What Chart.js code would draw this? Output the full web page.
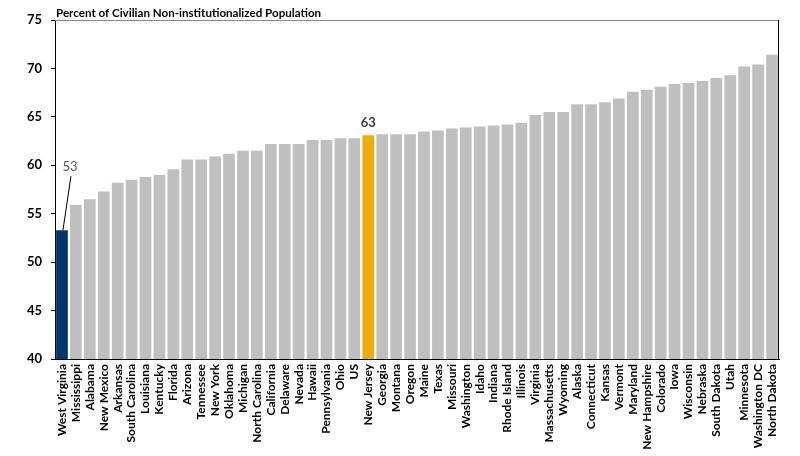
<!DOCTYPE html>
<html><head><meta charset="utf-8">
<script src="https://cdn.jsdelivr.net/npm/chart.js@4"></script>
<style>html,body{margin:0;padding:0;background:#fff}#wrap{width:800px;height:456px}</style>
</head><body><div id="wrap"><canvas id="c" width="800" height="456"></canvas></div>
<script>
const categories = ["West Virginia","Mississippi","Alabama","New Mexico","Arkansas","South Carolina","Louisiana","Kentucky","Florida","Arizona","Tennessee","New York","Oklahoma","Michigan","North Carolina","California","Delaware","Nevada","Hawaii","Pennsylvania","Ohio","US","New Jersey","Georgia","Montana","Oregon","Maine","Texas","Missouri","Washington","Idaho","Indiana","Rhode Island","Illinois","Virginia","Massachusetts","Wyoming","Alaska","Connecticut","Kansas","Vermont","Maryland","New Hampshire","Colorado","Iowa","Wisconsin","Nebraska","South Dakota","Utah","Minnesota","Washington DC","North Dakota"];
const values = [53.3,55.9,56.5,57.3,58.2,58.5,58.8,59.0,59.6,60.6,60.6,60.9,61.2,61.5,61.5,62.2,62.2,62.2,62.6,62.6,62.8,62.8,63.1,63.2,63.2,63.2,63.5,63.6,63.8,63.9,64.0,64.1,64.2,64.4,65.2,65.5,65.5,66.3,66.3,66.5,66.9,67.6,67.8,68.1,68.4,68.5,68.7,69.0,69.3,70.2,70.4,71.4];
const yTicks = [40,45,50,55,60,65,70,75];
const labeled = {"West Virginia":"53","New Jersey":"63"};
const titleText = "Percent of Civilian Non-institutionalized Population";

const colors = categories.map(c => c === "West Virginia" ? "#003768" : (c === "New Jersey" ? "#EFAB00" : "#BFBFBF"));
const FONT = "Lato, 'Open Sans', sans-serif";

const extras = {
  id: 'extras',
  afterDatasetsDraw(chart) {
    const ctx = chart.ctx, a = chart.chartArea;
    const meta = chart.getDatasetMeta(0);
    ctx.save();
    ctx.lineWidth = 1;
    ctx.strokeStyle = "#8a8a8a";
    ctx.beginPath(); ctx.moveTo(a.left, a.top + 0.5); ctx.lineTo(a.right, a.top + 0.5); ctx.stroke();
    ctx.strokeStyle = "#000";
    ctx.beginPath(); ctx.moveTo(a.right - 0.5, a.top); ctx.lineTo(a.right - 0.5, a.bottom); ctx.stroke();
    ctx.fillStyle = "#000";
    ctx.font = "bold 11.6px " + FONT;
    ctx.textAlign = "left"; ctx.textBaseline = "alphabetic";
    ctx.fillText(titleText, a.left + 1, a.top - 3);
    ctx.textAlign = "center";
    categories.forEach((c, i) => {
      if (!labeled[c]) return;
      const el = meta.data[i];
      if (i === 0) {
        ctx.font = "13px " + FONT;
        ctx.fillStyle = "#595959";
        const lx = el.x + 8, ly = el.y - 59;
        ctx.fillText(labeled[c], lx, ly);
        ctx.strokeStyle = "#000"; ctx.lineWidth = 1;
        ctx.beginPath(); ctx.moveTo(lx + 1, ly + 5); ctx.lineTo(el.x + 1, el.y); ctx.stroke();
      } else {
        ctx.font = "bold 13px " + FONT;
        ctx.fillStyle = "#404040";
        ctx.fillText(labeled[c], el.x, el.y - 8);
      }
    });
    ctx.restore();
  }
};

new Chart(document.getElementById('c'), {
  type: 'bar',
  data: { labels: categories, datasets: [{ data: values, backgroundColor: colors, borderWidth: 0, barPercentage: 0.84, categoryPercentage: 1.0 }] },
  options: {
    responsive: false, animation: false, devicePixelRatio: 1,
    layout: { padding: { top: 20, right: 21, left: 0, bottom: 0 } },
    plugins: { legend: { display: false }, tooltip: { enabled: false }, title: { display: false } },
    scales: {
      x: {
        grid: { display: false, drawTicks: false },
        border: { color: "#000", width: 1 },
        ticks: { color: "#000", font: { family: FONT, size: 12, weight: 'bold' }, minRotation: 90, maxRotation: 90, autoSkip: false, padding: 5 },
        afterFit(s) { s.height = 97; }
      },
      y: {
        min: 40, max: 75,
        afterBuildTicks(s) { s.ticks = yTicks.map(v => ({ value: v })); },
        grid: { display: true, drawOnChartArea: false, drawTicks: true, tickLength: 4, color: "#000" },
        border: { color: "#000", width: 1 },
        ticks: { color: "#000", font: { family: FONT, size: 13, weight: 'bold' }, padding: 9 },
        afterFit(s) { s.width = 55; }
      }
    }
  },
  plugins: [extras]
});
</script></body></html>
